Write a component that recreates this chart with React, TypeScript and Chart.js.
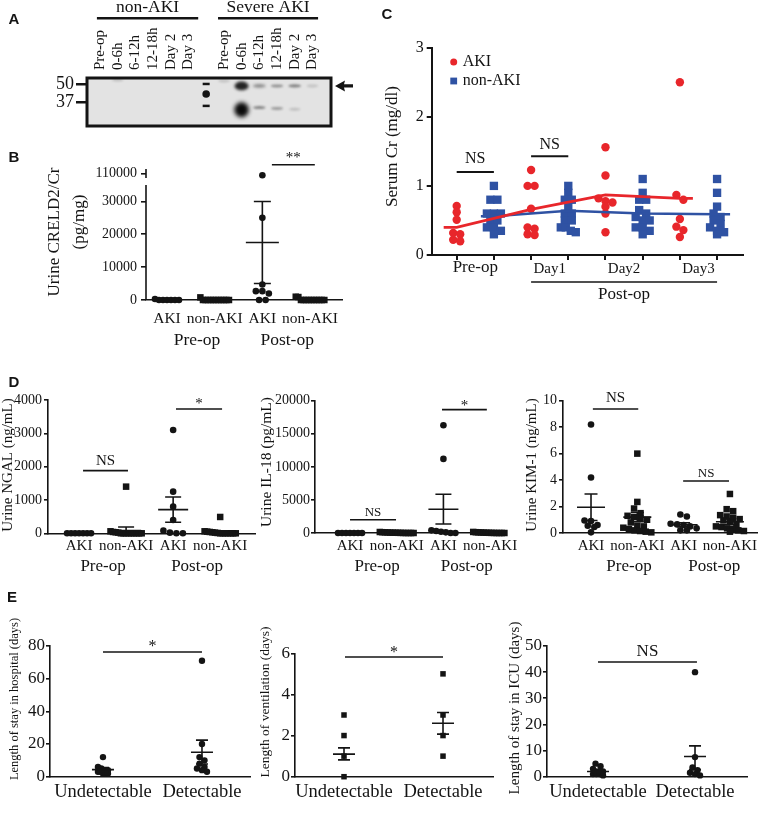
import React, { useEffect, useRef } from 'react';
import { Chart, registerables, LinearScale } from 'chart.js';

Chart.register(...registerables);

const W = 761;
const H = 816;
const SERIF = '"Liberation Serif", "Times New Roman", Times, serif';
const SANS = '"Liberation Sans", Arial, Helvetica, sans-serif';
const INK = '#141414';
const RED = '#e8262b';
const BLUE = '#2f52a3';

// ================= DATA =================
// A: western blot
const blotLanes = ['Pre-op', '0-6h', '6-12h', '12-18h', 'Day 2', 'Day 3', '', 'Pre-op', '0-6h', '6-12h', '12-18h', 'Day 2', 'Day 3'];
const blotGroups = ['non-AKI', 'Severe AKI'];
const blotMarkers = [50, 37];
const bandLane = [1, 7, 8, 8, 9, 9, 10, 10, 11, 11, 12];
const bandKDa = [52.9, 52.2, 48.6, 31.4, 48.6, 33.0, 48.6, 32.4, 48.6, 31.8, 48.6];
const bandIntensity = [0.12, 0.1, 0.88, 1.0, 0.45, 0.4, 0.35, 0.3, 0.42, 0.12, 0.1];
const ladderLane = 6;
const ladderKDa = [50, 42.8, 34.2];

// shared categories
const akiCats = ['AKI', 'non-AKI', 'AKI', 'non-AKI'];
const periods = ['Pre-op', 'Post-op'];

// B: urine CRELD2/Cr
const bAkiPre = [0, 0, 0, 300, 0, 0, 0];
const bNonPre = [800, 0, 0, 0, 0, 0, 0, 0, 0, 0, 0, 0];
const bAkiPost = [108000, 25000, 4700, 2700, 2700, 2000, 0, 0];
const bNonPost = [1000, 900, 0, 0, 0, 0, 0, 0, 0, 0, 0, 0];
const bAkiPostStats = [17500, 30000, 5000];
const bYTicks = [0, 10000, 20000, 30000, 110000];

// C: serum Cr
const cSeries = ['AKI', 'non-AKI'];
const cTimes = ['Pre-op', 'Day1', 'Day2', 'Day3'];
const cAkiPre = [0.71, 0.62, 0.51, 0.32, 0.3, 0.22, 0.2];
const cNonPre = [1.0, 0.8, 0.8, 0.6, 0.6, 0.6, 0.5, 0.5, 0.4, 0.4, 0.35, 0.3];
const cAkiDay1 = [1.23, 1.0, 1.0, 0.67, 0.4, 0.38, 0.3, 0.29];
const cNonDay1 = [1.0, 0.9, 0.8, 0.8, 0.7, 0.6, 0.6, 0.5, 0.5, 0.4, 0.4, 0.35, 0.33];
const cAkiDay2 = [1.56, 1.15, 0.82, 0.78, 0.76, 0.7, 0.6, 0.33];
const cNonDay2 = [1.1, 0.9, 0.8, 0.8, 0.65, 0.6, 0.55, 0.5, 0.5, 0.4, 0.4, 0.35, 0.3];
const cAkiDay3 = [2.5, 0.87, 0.8, 0.52, 0.41, 0.36, 0.26];
const cNonDay3 = [1.1, 0.9, 0.7, 0.6, 0.55, 0.5, 0.45, 0.4, 0.35, 0.33, 0.3];
const cAkiMean = [0.4, 0.66, 0.87, 0.82];
const cNonMean = [0.56, 0.64, 0.6, 0.59];

// D: NGAL
const ngalAkiPre = [0, 0, 0, 0, 0, 0, 0];
const ngalNonPre = [1400, 60, 40, 30, 20, 0, 0, 0, 0, 0, 0, 0, 0, 0];
const ngalAkiPost = [3100, 1250, 800, 400, 80, 20, 0, 0];
const ngalNonPost = [490, 60, 50, 40, 30, 20, 10, 0, 0, 0, 0, 0, 0, 0];
const ngalNonPreStats = [80, 190, 0];
const ngalAkiPostStats = [710, 1090, 330];
const ngalNonPostStats = [35, 75, 5];
// D: IL-18
const il18AkiPre = [0, 0, 0, 0, 0, 0, 0];
const il18NonPre = [150, 120, 100, 80, 60, 50, 40, 30, 20, 10, 0, 0, 0, 0];
const il18AkiPost = [16300, 11200, 400, 300, 200, 100, 0, 0];
const il18NonPost = [160, 120, 100, 80, 60, 40, 30, 20, 10, 0, 0, 0, 0, 0];
const il18AkiPostStats = [3600, 5850, 1350];
// D: KIM-1
const kimAkiPre = [8.2, 4.2, 0.95, 0.9, 0.6, 0.55, 0.45, 0.05];
const kimNonPre = [6.0, 2.35, 1.85, 1.5, 1.3, 1.2, 1.1, 1.0, 0.8, 0.55, 0.5, 0.4, 0.3, 0.2, 0.15, 0.1, 0.05];
const kimAkiPost = [1.4, 1.25, 0.7, 0.65, 0.6, 0.5, 0.35, 0.2, 0.2];
const kimNonPost = [2.95, 1.8, 1.65, 1.35, 1.25, 1.15, 1.05, 0.95, 0.85, 0.6, 0.5, 0.45, 0.35, 0.3, 0.2, 0.15, 0.1];
const kimStats = [[1.95, 2.95, 0.95], [1.2, 1.55, 0.85], [0.62, 0.78, 0.47], [0.85, 1.1, 0.62]];

// E
const eCats = ['Undetectable', 'Detectable'];
const hospUndet = [12, 6, 5, 4, 4, 3, 3, 2, 2, 2];
const hospDet = [71, 20, 12, 10, 8, 6, 5, 4, 3];
const hospStats = [[4.3, 5.6, 3.0], [15, 22.4, 7.8]];
const ventUndet = [3, 2, 1, 0];
const ventDet = [5, 3, 2, 1];
const ventStats = [[1.1, 1.4, 0.82], [2.6, 3.12, 2.07]];
const icuUndet = [5, 4, 3, 2, 2, 2, 1, 1, 1, 0.5];
const icuDet = [40, 7.5, 3.5, 2.5, 1.5, 1, 0.5];
const icuStats = [[2.0, 2.5, 1.5], [7.7, 11.8, 2.7]];

// ================= BROKEN AXIS SCALE (panel B) =================
const B_LOW_MAX = 35000;
const B_UP_MIN = 106000;
const B_UP_MAX = 114000;
const B_GAP = 15;
const B_UP_H = 7;

class BrokenScale extends LinearScale {
  getPixelForValue(value: any) {
    if (value === null || value === undefined || Number.isNaN(+value)) return NaN;
    const v = +value;
    const top = (this as any).top;
    const bottom = (this as any).bottom;
    if (v <= B_LOW_MAX) {
      const lowTop = top + B_GAP;
      return bottom - (v / B_LOW_MAX) * (bottom - lowTop);
    }
    return top + B_UP_H - ((v - B_UP_MIN) / (B_UP_MAX - B_UP_MIN)) * B_UP_H;
  }
}
(BrokenScale as any).id = 'brokenLinear';
(BrokenScale as any).defaults = (LinearScale as any).defaults;
Chart.register(BrokenScale as any);

// ================= HELPERS =================
function txt(ctx: any, s: string, x: number, y: number, size: number, o: any = {}) {
  ctx.save();
  ctx.font = `${o.bold ? 'bold ' : ''}${size}px ${o.family || SERIF}`;
  ctx.fillStyle = o.color || INK;
  ctx.textAlign = o.align || 'center';
  ctx.textBaseline = o.baseline || 'middle';
  ctx.translate(x, y);
  if (o.rot) ctx.rotate(o.rot);
  ctx.fillText(s, 0, 0);
  ctx.restore();
}

function swarm(vals: number[], toPx: (v: number) => number, pxPerCat: number, o: any) {
  const idx = vals.map((_, i) => i).sort((a, b) => vals[b] - vals[a]);
  const off = new Array(vals.length).fill(0);
  let row: number[] = [];
  let start = 0;
  const flush = () => {
    const n = row.length;
    if (!n) return;
    const step = n > 1 ? Math.min(o.maxStep, Math.max(o.minStep, o.maxW / (n - 1))) : 0;
    row.forEach((id, k) => { off[id] = ((k - (n - 1) / 2) * step) / pxPerCat; });
    row = [];
  };
  for (const id of idx) {
    const p = toPx(vals[id]);
    if (row.length && Math.abs(start - p) >= o.bin) flush();
    if (!row.length) start = p;
    row.push(id);
  }
  flush();
  return off;
}

function dotChart(canvas: HTMLCanvasElement, s: any) {
  const plot = s.plot;
  const yw = Math.min(plot.l, 70);
  const xh = Math.min(40, H - plot.b);
  const pxPerCat = (plot.r - plot.l) / (s.x[1] - s.x[0]);
  const pxPerY = (plot.b - plot.t) / (s.y[1] - s.y[0]);
  const toPx = s.toPx || ((v: number) => (v - s.y[0]) * pxPerY);
  const datasets: any[] = s.groups.map((g: any, i: number) => {
    const off = swarm(g.vals, toPx, pxPerCat, s.sw);
    const col = g.color || INK;
    return {
      type: 'scatter',
      label: g.label || s.cats[i],
      data: g.vals.map((v: number, k: number) => ({ x: i + off[k], y: v })),
      pointStyle: g.shape,
      pointRadius: g.shape === 'rect' ? s.sq : s.dot,
      pointBackgroundColor: col,
      pointBorderColor: col,
      pointBorderWidth: 0,
      backgroundColor: col,
      borderColor: col,
      borderWidth: 0,
      clip: false,
      order: 1,
    };
  });
  if (s.extraDatasets) datasets.push(...s.extraDatasets);

  const deco = {
    id: 'deco',
    afterDatasetsDraw(chart: any) {
      const ctx = chart.ctx;
      const xs = chart.scales.x;
      const ys = chart.scales.y;
      const X = (v: number) => xs.getPixelForValue(v);
      const Y = (v: number) => ys.getPixelForValue(v);
      ctx.save();
      ctx.strokeStyle = INK;
      ctx.lineWidth = s.lw;
      s.groups.forEach((g: any, i: number) => {
        if (!g.stats) return;
        const [m, hi, lo] = g.stats;
        const cx = X(i);
        ctx.beginPath();
        ctx.moveTo(cx - s.meanHalf, Y(m)); ctx.lineTo(cx + s.meanHalf, Y(m));
        ctx.moveTo(cx, Y(hi)); ctx.lineTo(cx, Y(lo));
        ctx.moveTo(cx - s.capHalf, Y(hi)); ctx.lineTo(cx + s.capHalf, Y(hi));
        ctx.moveTo(cx - s.capHalf, Y(lo)); ctx.lineTo(cx + s.capHalf, Y(lo));
        ctx.stroke();
      });
      (s.sigs || []).forEach((g: any) => {
        const y = Y(g.y);
        ctx.beginPath();
        ctx.lineWidth = s.sigLw || s.lw;
        ctx.moveTo(X(g.x0), y); ctx.lineTo(X(g.x1), y);
        ctx.stroke();
        txt(ctx, g.text, (X(g.x0) + X(g.x1)) / 2, y - g.lift, g.size, { baseline: 'alphabetic' });
      });
      (s.rules || []).forEach((r: any) => {
        ctx.beginPath();
        ctx.lineWidth = r.w || 1.4;
        ctx.moveTo(X(r.x0), r.y); ctx.lineTo(X(r.x1), r.y);
        ctx.stroke();
      });
      (s.heads || []).forEach((h: any) => txt(ctx, h.text, X(h.x), h.y, h.size));
      (s.titles || []).forEach((t: any) => txt(ctx, t.text, t.x, t.y, t.size, { rot: -Math.PI / 2 }));
      if (s.letter) txt(ctx, s.letter.text, s.letter.x, s.letter.y, 15, { bold: true, family: SANS });
      if (s.extraDraw) s.extraDraw(chart, X, Y);
      ctx.restore();
    },
  };

  const xGrid = s.xTick
    ? { display: true, drawOnChartArea: false, drawTicks: true, tickLength: s.xTick, color: INK, lineWidth: s.lw }
    : { display: false, drawTicks: false };

  return new Chart(canvas, {
    type: 'scatter',
    data: { datasets },
    options: {
      responsive: false,
      animation: false,
      devicePixelRatio: 1,
      events: [],
      layout: {
        autoPadding: false,
        padding: { left: plot.l - yw, right: W - plot.r, top: plot.t, bottom: H - plot.b - xh },
      },
      plugins: { legend: { display: false }, tooltip: { enabled: false } },
      scales: {
        x: {
          type: 'linear',
          min: s.x[0],
          max: s.x[1],
          afterBuildTicks: (sc: any) => { sc.ticks = s.cats.map((_: any, i: number) => ({ value: i })); },
          afterFit: (sc: any) => { sc.height = xh; sc.paddingLeft = 0; sc.paddingRight = 0; },
          ticks: {
            autoSkip: false, maxRotation: 0, minRotation: 0, padding: s.catPad, color: INK,
            font: { family: SERIF, size: s.font.cat },
            callback: (v: any) => s.cats[v] ?? '',
          },
          grid: xGrid,
          border: { display: true, color: INK, width: s.lw },
        },
        y: {
          type: s.yType || 'linear',
          min: s.y[0],
          max: s.y[1],
          afterBuildTicks: (sc: any) => { sc.ticks = s.yTicks.map((v: number) => ({ value: v })); },
          afterFit: (sc: any) => { sc.width = yw; sc.paddingTop = 0; sc.paddingBottom = 0; },
          ticks: { padding: s.tickPad, color: INK, font: { family: SERIF, size: s.font.tick }, callback: (v: any) => String(v) },
          grid: { display: true, drawOnChartArea: false, drawTicks: true, tickLength: s.tickLen, color: INK, lineWidth: s.lw },
          border: { display: s.yBorder !== false, color: INK, width: s.lw },
        },
      },
    } as any,
    plugins: [deco],
  } as any);
}

// ================= PANEL A =================
function blotChart(canvas: HTMLCanvasElement) {
  const plot = { l: 87, r: 331, t: 78, b: 126 };
  const yw = 60;
  const deco = {
    id: 'blot',
    beforeDatasetsDraw(chart: any) {
      const { ctx, chartArea: ca } = chart;
      ctx.save();
      ctx.fillStyle = '#e3e3e3';
      ctx.fillRect(ca.left, ca.top, ca.right - ca.left, ca.bottom - ca.top);
      ctx.beginPath();
      ctx.rect(ca.left, ca.top, ca.right - ca.left, ca.bottom - ca.top);
      ctx.clip();
      chart.getDatasetMeta(0).data.forEach((el: any, i: number) => {
        const k = bandIntensity[i];
        const w = 11 + 3.5 * k;
        const h = 3 + 12 * Math.pow(k, 6);
        ctx.filter = `blur(${(0.8 + 1.2 * k).toFixed(2)}px)`;
        ctx.fillStyle = `rgba(10,10,10,${Math.min(1, 0.05 + 0.95 * k)})`;
        ctx.beginPath();
        ctx.ellipse(el.x, el.y, w / 2, h / 2, 0, 0, Math.PI * 2);
        ctx.fill();
      });
      ctx.restore();
    },
    afterDatasetsDraw(chart: any) {
      const { ctx, chartArea: ca } = chart;
      const X = (v: number) => chart.scales.x.getPixelForValue(v);
      const Y = (v: number) => chart.scales.y.getPixelForValue(v);
      ctx.save();
      ctx.strokeStyle = INK;
      ctx.lineWidth = 3;
      ctx.strokeRect(ca.left, ca.top, ca.right - ca.left, ca.bottom - ca.top);
      blotLanes.forEach((t, i) => { if (t) txt(ctx, t, X(i), ca.top - 8, 15, { align: 'left', rot: -Math.PI / 2 }); });
      const spans = [[-0.17, 5.55], [6.67, 12.32]];
      blotGroups.forEach((g, i) => {
        const [a, b] = spans[i];
        ctx.beginPath();
        ctx.lineWidth = 2.5;
        ctx.moveTo(X(a), 18.3); ctx.lineTo(X(b), 18.3);
        ctx.stroke();
        txt(ctx, g, (X(a) + X(b)) / 2, 7, 17.5);
      });
      // arrow at the 50 kDa band
      const ay = Y(48.6);
      const ax = ca.right + 4;
      ctx.fillStyle = INK;
      ctx.beginPath();
      ctx.moveTo(ax, ay);
      ctx.lineTo(ax + 10, ay - 5.5);
      ctx.lineTo(ax + 9, ay - 1.6);
      ctx.lineTo(ax + 18, ay - 1.6);
      ctx.lineTo(ax + 18, ay + 1.6);
      ctx.lineTo(ax + 9, ay + 1.6);
      ctx.lineTo(ax + 10, ay + 5.5);
      ctx.closePath();
      ctx.fill();
      txt(ctx, 'A', 14, 20, 15, { bold: true, family: SANS });
      ctx.restore();
    },
  };
  return new Chart(canvas, {
    type: 'scatter',
    data: {
      datasets: [
        { label: 'bands', data: bandLane.map((l, i) => ({ x: l, y: bandKDa[i] })), pointRadius: 0, clip: false },
        {
          label: 'ladder',
          data: ladderKDa.map((k) => ({ x: ladderLane, y: k })),
          pointStyle: ['line', 'circle', 'line'],
          pointRadius: [3.5, 3.8, 3.5],
          pointBorderWidth: [2.5, 0, 2.5],
          pointBackgroundColor: INK,
          pointBorderColor: INK,
          clip: false,
        },
      ],
    },
    options: {
      responsive: false,
      animation: false,
      devicePixelRatio: 1,
      events: [],
      layout: { autoPadding: false, padding: { left: plot.l - yw, right: W - plot.r, top: plot.t, bottom: H - plot.b } },
      plugins: { legend: { display: false }, tooltip: { enabled: false } },
      scales: {
        x: { type: 'linear', display: false, min: -0.73, max: 13.05 },
        y: {
          type: 'linear', min: 19.7, max: 54.3,
          afterBuildTicks: (sc: any) => { sc.ticks = blotMarkers.map((v) => ({ value: v })); },
          afterFit: (sc: any) => { sc.width = yw; sc.paddingTop = 0; sc.paddingBottom = 0; },
          ticks: { padding: 2, color: INK, font: { family: SERIF, size: 18 }, callback: (v: any) => String(v) },
          grid: { display: true, drawOnChartArea: false, drawTicks: true, tickLength: 11, color: INK, lineWidth: 2.5 },
          border: { display: false },
        },
      },
    } as any,
    plugins: [deco],
  } as any);
}

// ================= PANEL SPECS =================
const dSw = { bin: 5, maxW: 24, minStep: 2.6, maxStep: 6.5 };
const eSw = { bin: 4, maxW: 10, minStep: 2, maxStep: 5 };

function chartB(c: HTMLCanvasElement) {
  return dotChart(c, {
    plot: { l: 146, r: 342, t: 170, b: 300 },
    x: [-0.44, 3.67], y: [0, B_UP_MAX], yTicks: bYTicks, yType: 'brokenLinear', yBorder: false,
    toPx: (v: number) => (v <= B_LOW_MAX ? (v * 115) / B_LOW_MAX : 130 + ((v - B_UP_MIN) * 7) / 8000),
    cats: akiCats,
    groups: [
      { vals: bAkiPre, shape: 'circle' },
      { vals: bNonPre, shape: 'rect' },
      { vals: bAkiPost, shape: 'circle', stats: bAkiPostStats },
      { vals: bNonPost, shape: 'rect' },
    ],
    font: { tick: 14, cat: 15.5 }, catPad: 10, tickLen: 5, tickPad: 4, lw: 1.6,
    dot: 3.3, sq: 4.6, sw: dSw, meanHalf: 16.5, capHalf: 8.5,
    sigs: [{ x0: 2.2, x1: 3.1, y: 120000, text: '**', size: 15, lift: 2.5 }],
    heads: [{ text: periods[0], x: 0.63, y: 340.5, size: 17.5 }, { text: periods[1], x: 2.52, y: 340.5, size: 17.5 }],
    titles: [{ text: 'Urine CRELD2/Cr', x: 55, y: 232, size: 17 }, { text: '(pg/mg)', x: 80, y: 222, size: 17 }],
    letter: { text: 'B', x: 14, y: 158 },
    extraDraw: (chart: any, X: any, Y: any) => {
      const ctx = chart.ctx;
      const ys = chart.scales.y;
      const l = chart.chartArea.left;
      ctx.strokeStyle = INK;
      ctx.lineWidth = 1.6;
      ctx.beginPath();
      ctx.moveTo(l, Y(0)); ctx.lineTo(l, ys.top + B_GAP);
      ctx.moveTo(l, ys.top - 1); ctx.lineTo(l, ys.top + B_UP_H + 1);
      ctx.stroke();
    },
  });
}

function meanPts(m: number[], first: number) {
  return [
    { x: first - 0.35, y: m[0] },
    ...m.map((v, i) => ({ x: first + 2 * i, y: v })),
    { x: first + 2 * (m.length - 1) + 0.35, y: m[m.length - 1] },
  ];
}

function chartC(c: HTMLCanvasElement) {
  const aki = [cAkiPre, cAkiDay1, cAkiDay2, cAkiDay3];
  const non = [cNonPre, cNonDay1, cNonDay2, cNonDay3];
  const groups: any[] = [];
  for (let i = 0; i < 4; i++) {
    groups.push({ vals: aki[i], shape: 'circle', color: RED, label: cSeries[0] });
    groups.push({ vals: non[i], shape: 'rect', color: BLUE, label: cSeries[1] });
  }
  const line = (m: number[], first: number, col: string, lab: string) => ({
    type: 'line', label: lab, data: meanPts(m, first), borderColor: col, backgroundColor: col,
    borderWidth: 2.6, pointRadius: 0, fill: false, tension: 0, clip: false, order: -1,
  });
  return dotChart(c, {
    plot: { l: 431.7, r: 743, t: 47.7, b: 255 },
    x: [-0.672, 7.697], y: [0, 3], yTicks: [0, 1, 2, 3],
    cats: ['', '', '', '', '', '', '', ''],
    groups,
    extraDatasets: [line(cAkiMean, 0, RED, cSeries[0] + ' mean'), line(cNonMean, 1, BLUE, cSeries[1] + ' mean')],
    xTick: 5,
    font: { tick: 16, cat: 12 }, catPad: 0, tickLen: 5, tickPad: 3, lw: 2,
    dot: 4.2, sq: 5.9, sw: { bin: 6, maxW: 14, minStep: 5, maxStep: 7 }, meanHalf: 0, capHalf: 0, sigLw: 2,
    sigs: [
      { x0: 0, x1: 1, y: 1.2, text: 'NS', size: 16, lift: 8.7 },
      { x0: 2, x1: 3, y: 1.43, text: 'NS', size: 16, lift: 7.4 },
    ],
    heads: [
      { text: cTimes[0], x: 0.5, y: 268, size: 17 },
      { text: cTimes[1], x: 2.5, y: 269, size: 15 },
      { text: cTimes[2], x: 4.5, y: 269, size: 15 },
      { text: cTimes[3], x: 6.5, y: 269, size: 15 },
      { text: periods[1], x: 4.5, y: 295, size: 17 },
    ],
    rules: [{ x0: 2, x1: 7, y: 282, w: 1.4 }],
    titles: [{ text: 'Serum Cr (mg/dl)', x: 393, y: 146.5, size: 17 }],
    letter: { text: 'C', x: 387, y: 15 },
    extraDraw: (chart: any) => {
      const ctx = chart.ctx;
      const ca = chart.chartArea;
      const lx = ca.left + 22;
      ctx.fillStyle = RED;
      ctx.beginPath(); ctx.arc(lx, 62, 3.5, 0, Math.PI * 2); ctx.fill();
      ctx.fillStyle = BLUE;
      ctx.fillRect(lx - 3.4, 81 - 3.4, 6.8, 6.8);
      txt(ctx, cSeries[0], lx + 9, 62, 16, { align: 'left' });
      txt(ctx, cSeries[1], lx + 9, 81, 16, { align: 'left' });
    },
  });
}

function chartD1(c: HTMLCanvasElement) {
  return dotChart(c, {
    plot: { l: 48, r: 255, t: 400, b: 533.3 },
    x: [-0.66, 3.74], y: [0, 4000], yTicks: [0, 1000, 2000, 3000, 4000],
    cats: akiCats,
    groups: [
      { vals: ngalAkiPre, shape: 'circle' },
      { vals: ngalNonPre, shape: 'rect', stats: ngalNonPreStats },
      { vals: ngalAkiPost, shape: 'circle', stats: ngalAkiPostStats },
      { vals: ngalNonPost, shape: 'rect', stats: ngalNonPostStats },
    ],
    font: { tick: 14, cat: 15 }, catPad: 4, tickLen: 4, tickPad: 2, lw: 1.6,
    dot: 3.3, sq: 4.6, sw: dSw, meanHalf: 15, capHalf: 8,
    sigs: [
      { x0: 0.085, x1: 1.04, y: 1880, text: 'NS', size: 15, lift: 5.5 },
      { x0: 2.06, x1: 3.04, y: 3730, text: '*', size: 15, lift: 0.5 },
    ],
    heads: [{ text: periods[0], x: 0.51, y: 566.7, size: 17 }, { text: periods[1], x: 2.51, y: 566.7, size: 17 }],
    titles: [{ text: 'Urine NGAL (ng/mL)', x: 8.5, y: 465, size: 15 }],
    letter: { text: 'D', x: 14, y: 383 },
  });
}

function chartD2(c: HTMLCanvasElement) {
  return dotChart(c, {
    plot: { l: 315, r: 503, t: 400.7, b: 533 },
    x: [-0.75, 3.276], y: [0, 20000], yTicks: [0, 5000, 10000, 15000, 20000],
    cats: akiCats,
    groups: [
      { vals: il18AkiPre, shape: 'circle' },
      { vals: il18NonPre, shape: 'rect' },
      { vals: il18AkiPost, shape: 'circle', stats: il18AkiPostStats },
      { vals: il18NonPost, shape: 'rect' },
    ],
    font: { tick: 14, cat: 15 }, catPad: 4, tickLen: 4, tickPad: 1, lw: 1.6,
    dot: 3.3, sq: 4.6, sw: dSw, meanHalf: 15, capHalf: 8,
    sigs: [
      { x0: 0, x1: 0.985, y: 2000, text: 'NS', size: 13, lift: 3.7 },
      { x0: 1.97, x1: 2.93, y: 18650, text: '*', size: 15, lift: 0 },
    ],
    heads: [{ text: periods[0], x: 0.58, y: 566.7, size: 17 }, { text: periods[1], x: 2.5, y: 566.7, size: 17 }],
    titles: [{ text: 'Urine IL-18 (pg/mL)', x: 267, y: 462, size: 15.5 }],
  });
}

function chartD3(c: HTMLCanvasElement) {
  return dotChart(c, {
    plot: { l: 563, r: 757, t: 400.7, b: 533 },
    x: [-0.605, 3.585], y: [0, 10], yTicks: [0, 2, 4, 6, 8, 10],
    cats: akiCats,
    groups: [
      { vals: kimAkiPre, shape: 'circle', stats: kimStats[0] },
      { vals: kimNonPre, shape: 'rect', stats: kimStats[1] },
      { vals: kimAkiPost, shape: 'circle', stats: kimStats[2] },
      { vals: kimNonPost, shape: 'rect', stats: kimStats[3] },
    ],
    font: { tick: 14, cat: 15 }, catPad: 4, tickLen: 4, tickPad: 2, lw: 1.6,
    dot: 3.3, sq: 4.6, sw: { bin: 5, maxW: 28, minStep: 2.6, maxStep: 6.5 }, meanHalf: 14, capHalf: 6.5,
    sigs: [
      { x0: 0.04, x1: 1.02, y: 9.37, text: 'NS', size: 15, lift: 7 },
      { x0: 1.99, x1: 2.98, y: 3.93, text: 'NS', size: 13, lift: 3.7 },
    ],
    heads: [{ text: periods[0], x: 0.82, y: 566.7, size: 17 }, { text: periods[1], x: 2.66, y: 566.7, size: 17 }],
    titles: [{ text: 'Urine KIM-1 (ng/mL)', x: 532, y: 465, size: 15 }],
  });
}

function chartE1(c: HTMLCanvasElement) {
  return dotChart(c, {
    plot: { l: 50, r: 250, t: 646, b: 776.7 },
    x: [-0.535, 1.485], y: [0, 80], yTicks: [0, 20, 40, 60, 80],
    cats: eCats,
    groups: [
      { vals: hospUndet, shape: 'circle', stats: hospStats[0] },
      { vals: hospDet, shape: 'circle', stats: hospStats[1] },
    ],
    font: { tick: 17, cat: 18.5 }, catPad: 4, tickLen: 4, tickPad: 1, lw: 1.6,
    dot: 3.2, sq: 3.9, sw: eSw, meanHalf: 11, capHalf: 6,
    sigs: [{ x0: 0, x1: 1, y: 76.3, text: '*', size: 16, lift: 1 }],
    titles: [{ text: 'Length of stay in hospital (days)', x: 15, y: 699, size: 12.5 }],
    letter: { text: 'E', x: 12, y: 598 },
  });
}

function chartE2(c: HTMLCanvasElement) {
  return dotChart(c, {
    plot: { l: 295, r: 493, t: 653.3, b: 776.7 },
    x: [-0.495, 1.505], y: [0, 6], yTicks: [0, 2, 4, 6],
    cats: eCats,
    groups: [
      { vals: ventUndet, shape: 'rect', stats: ventStats[0] },
      { vals: ventDet, shape: 'rect', stats: ventStats[1] },
    ],
    font: { tick: 17, cat: 18.5 }, catPad: 4, tickLen: 4, tickPad: 1, lw: 1.6,
    dot: 3.2, sq: 3.9, sw: eSw, meanHalf: 11, capHalf: 6,
    sigs: [{ x0: 0.01, x1: 1.0, y: 5.82, text: '*', size: 16, lift: 0 }],
    titles: [{ text: 'Length of ventilation (days)', x: 265, y: 702, size: 13.5 }],
  });
}

function chartE3(c: HTMLCanvasElement) {
  return dotChart(c, {
    plot: { l: 547, r: 747, t: 646, b: 776.7 },
    x: [-0.526, 1.536], y: [0, 50], yTicks: [0, 10, 20, 30, 40, 50],
    cats: eCats,
    groups: [
      { vals: icuUndet, shape: 'circle', stats: icuStats[0] },
      { vals: icuDet, shape: 'circle', stats: icuStats[1] },
    ],
    font: { tick: 17, cat: 18.5 }, catPad: 4, tickLen: 4, tickPad: 1, lw: 1.6,
    dot: 3.2, sq: 3.9, sw: eSw, meanHalf: 11, capHalf: 6,
    sigs: [{ x0: 0, x1: 1.02, y: 43.9, text: 'NS', size: 17, lift: 6.4 }],
    titles: [{ text: 'Length of stay in ICU (days)', x: 515, y: 708, size: 15 }],
  });
}

const makers = [blotChart, chartB, chartC, chartD1, chartD2, chartD3, chartE1, chartE2, chartE3];

function Layer({ make }: { make: (c: HTMLCanvasElement) => Chart }) {
  const ref = useRef<HTMLCanvasElement>(null);
  useEffect(() => {
    const chart = make(ref.current as HTMLCanvasElement);
    return () => chart.destroy();
  }, [make]);
  return <canvas ref={ref} width={W} height={H} style={{ position: 'absolute', left: 0, top: 0, width: W, height: H }} />;
}

export default function App() {
  return (
    <div style={{ position: 'absolute', left: 0, top: 0, width: W, height: H, background: '#fff', overflow: 'hidden' }}>
      {makers.map((m, i) => (
        <Layer key={i} make={m} />
      ))}
    </div>
  );
}
